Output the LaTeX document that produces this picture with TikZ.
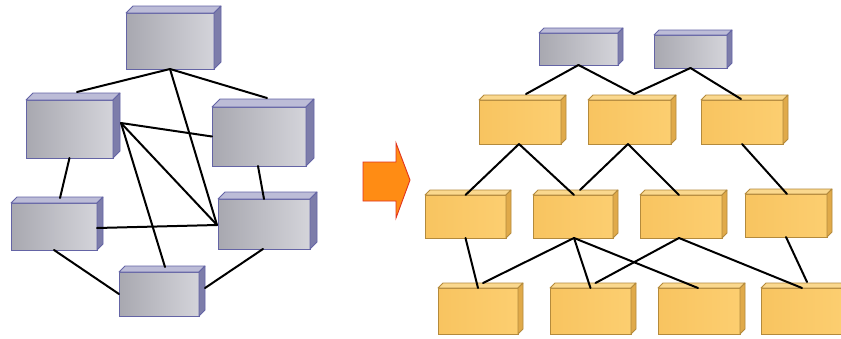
\documentclass[tikz,border=0pt]{standalone}
\usetikzlibrary{calc}
\definecolor{gL}{RGB}{168,168,176}
\definecolor{gR}{RGB}{212,212,218}
\definecolor{gEdge}{RGB}{100,100,165}
\definecolor{gTop}{RGB}{188,188,215}
\definecolor{gSide}{RGB}{125,125,170}
\definecolor{yL}{RGB}{248,196,96}
\definecolor{yR}{RGB}{252,206,112}
\definecolor{yEdge}{RGB}{180,138,60}
\definecolor{yTop}{RGB}{250,216,142}
\definecolor{ySide}{RGB}{224,170,74}
\definecolor{arrFill}{RGB}{255,140,20}
\definecolor{arrEdge}{RGB}{225,50,30}
\tikzset{
  graybox/.style={rectangle, draw=gEdge, line width=0.8pt, outer sep=0pt, inner sep=0pt, left color=gL, right color=gR},
  graytop/.style={draw=gEdge, line width=0.8pt, fill=gTop, line join=round},
  grayside/.style={draw=gEdge, line width=0.8pt, fill=gSide, line join=round},
  yelbox/.style={rectangle, draw=yEdge, line width=0.8pt, outer sep=0pt, inner sep=0pt, left color=yL, right color=yR},
  yeltop/.style={draw=yEdge, line width=0.8pt, fill=yTop, line join=round},
  yelside/.style={draw=yEdge, line width=0.8pt, fill=ySide, line join=round},
  link/.style={draw=black, line width=2pt, line cap=round},
  bigarrow/.style={draw=arrEdge, line width=0.9pt, fill=arrFill, line join=miter}
}
% name, cx, cy, w, h, kind (gray/yel), depth
\newcommand\cubenode[7]{%
  \node[#6box, minimum width=#4pt, minimum height=#5pt] (#1) at (#2,#3) {};
  \filldraw[#6top] (#1.north west) -- ++(#7,-#7) -- ++(#4,0) -- (#1.north east) -- cycle;
  \filldraw[#6side] (#1.north east) -- ++(#7,-#7) -- ++(0,#5) -- (#1.south east) -- cycle;
}
\begin{document}
\begin{tikzpicture}[x=1pt,y=-1pt]
\useasboundingbox (0,0) rectangle (841,338);
\clip (0,0) rectangle (841,338);
\fill[white] (0,0) rectangle (841,338);
% ---------- left graph ----------
\cubenode{T}{170}{41}{88}{56}{gray}{7}
\cubenode{L1}{69.5}{129}{87}{58}{gray}{7}
\cubenode{R1}{259}{136.5}{94}{59}{gray}{8}
\cubenode{L2}{54}{226.5}{86}{47}{gray}{6}
\cubenode{R2}{264}{224}{92}{50}{gray}{7}
\cubenode{B}{159}{294}{80}{44}{gray}{6}
\draw[link] (T.south) -- ([shift={(7.5,-8)}]L1.north);
\draw[link] (T.south) -- ([shift={(8,-9)}]R1.north);
\draw[link] (T.south) -- ([shift={(-1,1)}]R2.west);
\draw[link] ([shift={(8,-6)}]L1.east) -- (R1.west);
\draw[link] ([shift={(8,-6)}]L1.east) -- ([shift={(-1,1)}]R2.west);
\draw[link] ([shift={(8,-6)}]L1.east) -- ([shift={(6,-5)}]B.north);
\draw[link] (L1.south) -- ([shift={(6,-5)}]L2.north);
\draw[link] ([shift={(-1,0)}]R1.south) -- (R2.north);
\draw[link] ([shift={(0,1.5)}]L2.east) -- ([shift={(-1,1)}]R2.west);
\draw[link] (L2.south) -- (B.west);
\draw[link] ([shift={(-1,0)}]R2.south) -- ([shift={(6,-6)}]B.east);
% ---------- arrow ----------
\filldraw[bigarrow] (363,162) -- (396,162) -- (396,143) -- (410,180) -- (396,218) -- (396,201) -- (363,201) -- cycle;
% ---------- right hierarchy ----------
\cubenode{G1}{578.5}{49}{79}{32}{gray}{5}
\cubenode{G2}{690.5}{51.5}{73}{33}{gray}{5}
\cubenode{Y1}{520}{122}{82}{44}{yel}{5}
\cubenode{Y2}{629.5}{122}{83}{44}{yel}{5}
\cubenode{Y3}{742}{122}{82}{44}{yel}{5}
\cubenode{Y4}{465.5}{216.5}{81}{43}{yel}{5}
\cubenode{Y5}{573}{216.5}{80}{43}{yel}{5}
\cubenode{Y6}{681}{216.5}{82}{43}{yel}{5}
\cubenode{Y7}{786}{215.5}{82}{43}{yel}{5}
\cubenode{Y8}{478}{311}{80}{46}{yel}{5}
\cubenode{Y9}{590.5}{311}{81}{46}{yel}{5}
\cubenode{Y10}{699}{311}{82}{46}{yel}{5}
\cubenode{Y11}{802}{311}{82}{46}{yel}{5}
\draw[link] (G1.south) -- ([shift={(6,-6)}]Y1.north);
\draw[link] (G1.south) -- ([shift={(4.5,-6)}]Y2.north);
\draw[link] (G2.south) -- ([shift={(4.5,-6)}]Y2.north);
\draw[link] (G2.south) -- ([shift={(-1,-1)}]Y3.north);
\draw[link] ([shift={(-1,0)}]Y1.south) -- (Y4.north);
\draw[link] ([shift={(-1,0)}]Y1.south) -- ([shift={(1,0)}]Y5.north);
\draw[link] ([shift={(-1.5,0)}]Y2.south) -- ([shift={(7,-5)}]Y5.north);
\draw[link] ([shift={(-1.5,0)}]Y2.south) -- ([shift={(-2,0)}]Y6.north);
\draw[link] (Y3.south) -- ([shift={(1,0)}]Y7.north);
\draw[link] (Y4.south) -- (Y8.north);
\draw[link] ([shift={(1,0)}]Y5.south) -- ([shift={(5,-5)}]Y8.north);
\draw[link] ([shift={(1,0)}]Y5.south) -- (Y9.north);
\draw[link] ([shift={(1,0)}]Y5.south) -- ([shift={(-1,0)}]Y10.north);
\draw[link] ([shift={(-2,0)}]Y6.south) -- ([shift={(5,-5)}]Y9.north);
\draw[link] ([shift={(-2,0)}]Y6.south) -- (Y11.north);
\draw[link] (Y7.south) -- ([shift={(5,-6)}]Y11.north);
\end{tikzpicture}
\end{document}
